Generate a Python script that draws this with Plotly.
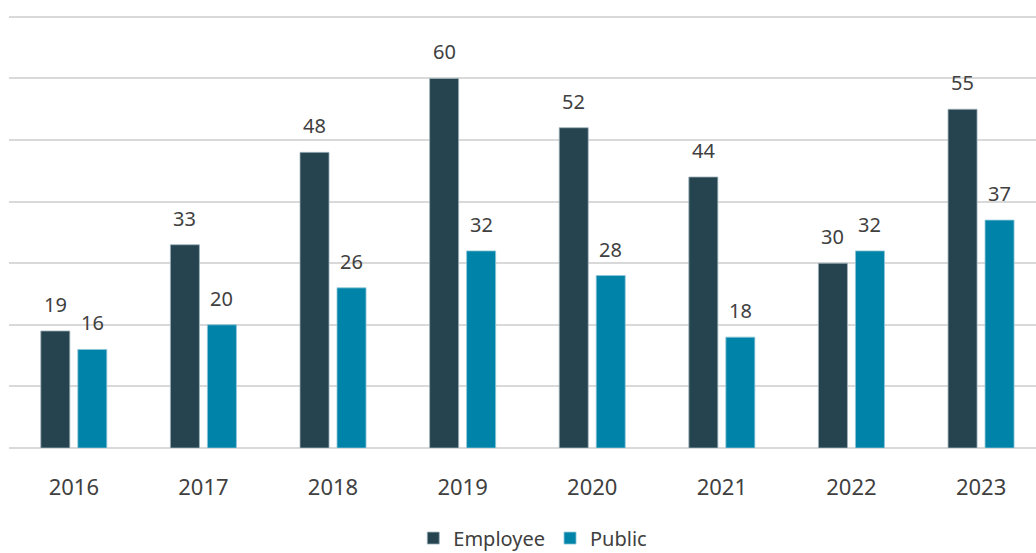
import plotly.graph_objects as go

years = ["2016", "2017", "2018", "2019", "2020", "2021", "2022", "2023"]
employee = [19, 33, 48, 60, 52, 44, 30, 55]
public = [16, 20, 26, 32, 28, 18, 32, 37]

emp_color = "#25444f"
pub_color = "#0083a8"
txt_color = "#404040"
font_family = "Noto Sans, Open Sans, sans-serif"

fig = go.Figure()
fig.add_trace(go.Bar(x=years, y=employee, name="Employee", marker_color=emp_color,
                     marker_line=dict(color="#9fb3bb", width=0.8)))
fig.add_trace(go.Bar(x=years, y=public, name="Public", marker_color=pub_color,
                     marker_line=dict(color="#8fc6d8", width=0.8)))

for i, (e, p) in enumerate(zip(employee, public)):
    fig.add_annotation(x=i, y=e, xref="x", yref="y", text=str(e), showarrow=False,
                       xshift=-18.5, yanchor="bottom", yshift=11,
                       font=dict(size=20, color=txt_color, family=font_family))
    fig.add_annotation(x=i, y=p, xref="x", yref="y", text=str(p), showarrow=False,
                       xshift=18.5, yanchor="bottom", yshift=11,
                       font=dict(size=20, color=txt_color, family=font_family))

fig.update_layout(
    width=1036, height=553,
    margin=dict(l=9, r=0, t=15, b=105, autoexpand=False),
    paper_bgcolor="white", plot_bgcolor="white",
    barmode="group", bargap=0.429, bargroupgap=0.216,
    font=dict(family=font_family, color=txt_color, size=22),
    showlegend=True,
    legend=dict(orientation="h", x=0.51, y=-0.208, xanchor="center", yanchor="middle",
                font=dict(size=20, color=txt_color), itemwidth=30,
                traceorder="normal"),
)
fig.update_xaxes(type="category", range=[-0.5, 7.424], showgrid=False, showline=False,
                 ticks="", tickfont=dict(size=22, color=txt_color), ticklabelstandoff=24)
fig.update_yaxes(range=[0, 70.3], dtick=10, showgrid=True, gridcolor="#d9d9d9",
                 gridwidth=2, showticklabels=False, zeroline=True, zerolinecolor="#d9d9d9",
                 zerolinewidth=2)

fig.write_html("out.html", config={"displayModeBar": False},
               post_script="document.body.style.margin='0';")
